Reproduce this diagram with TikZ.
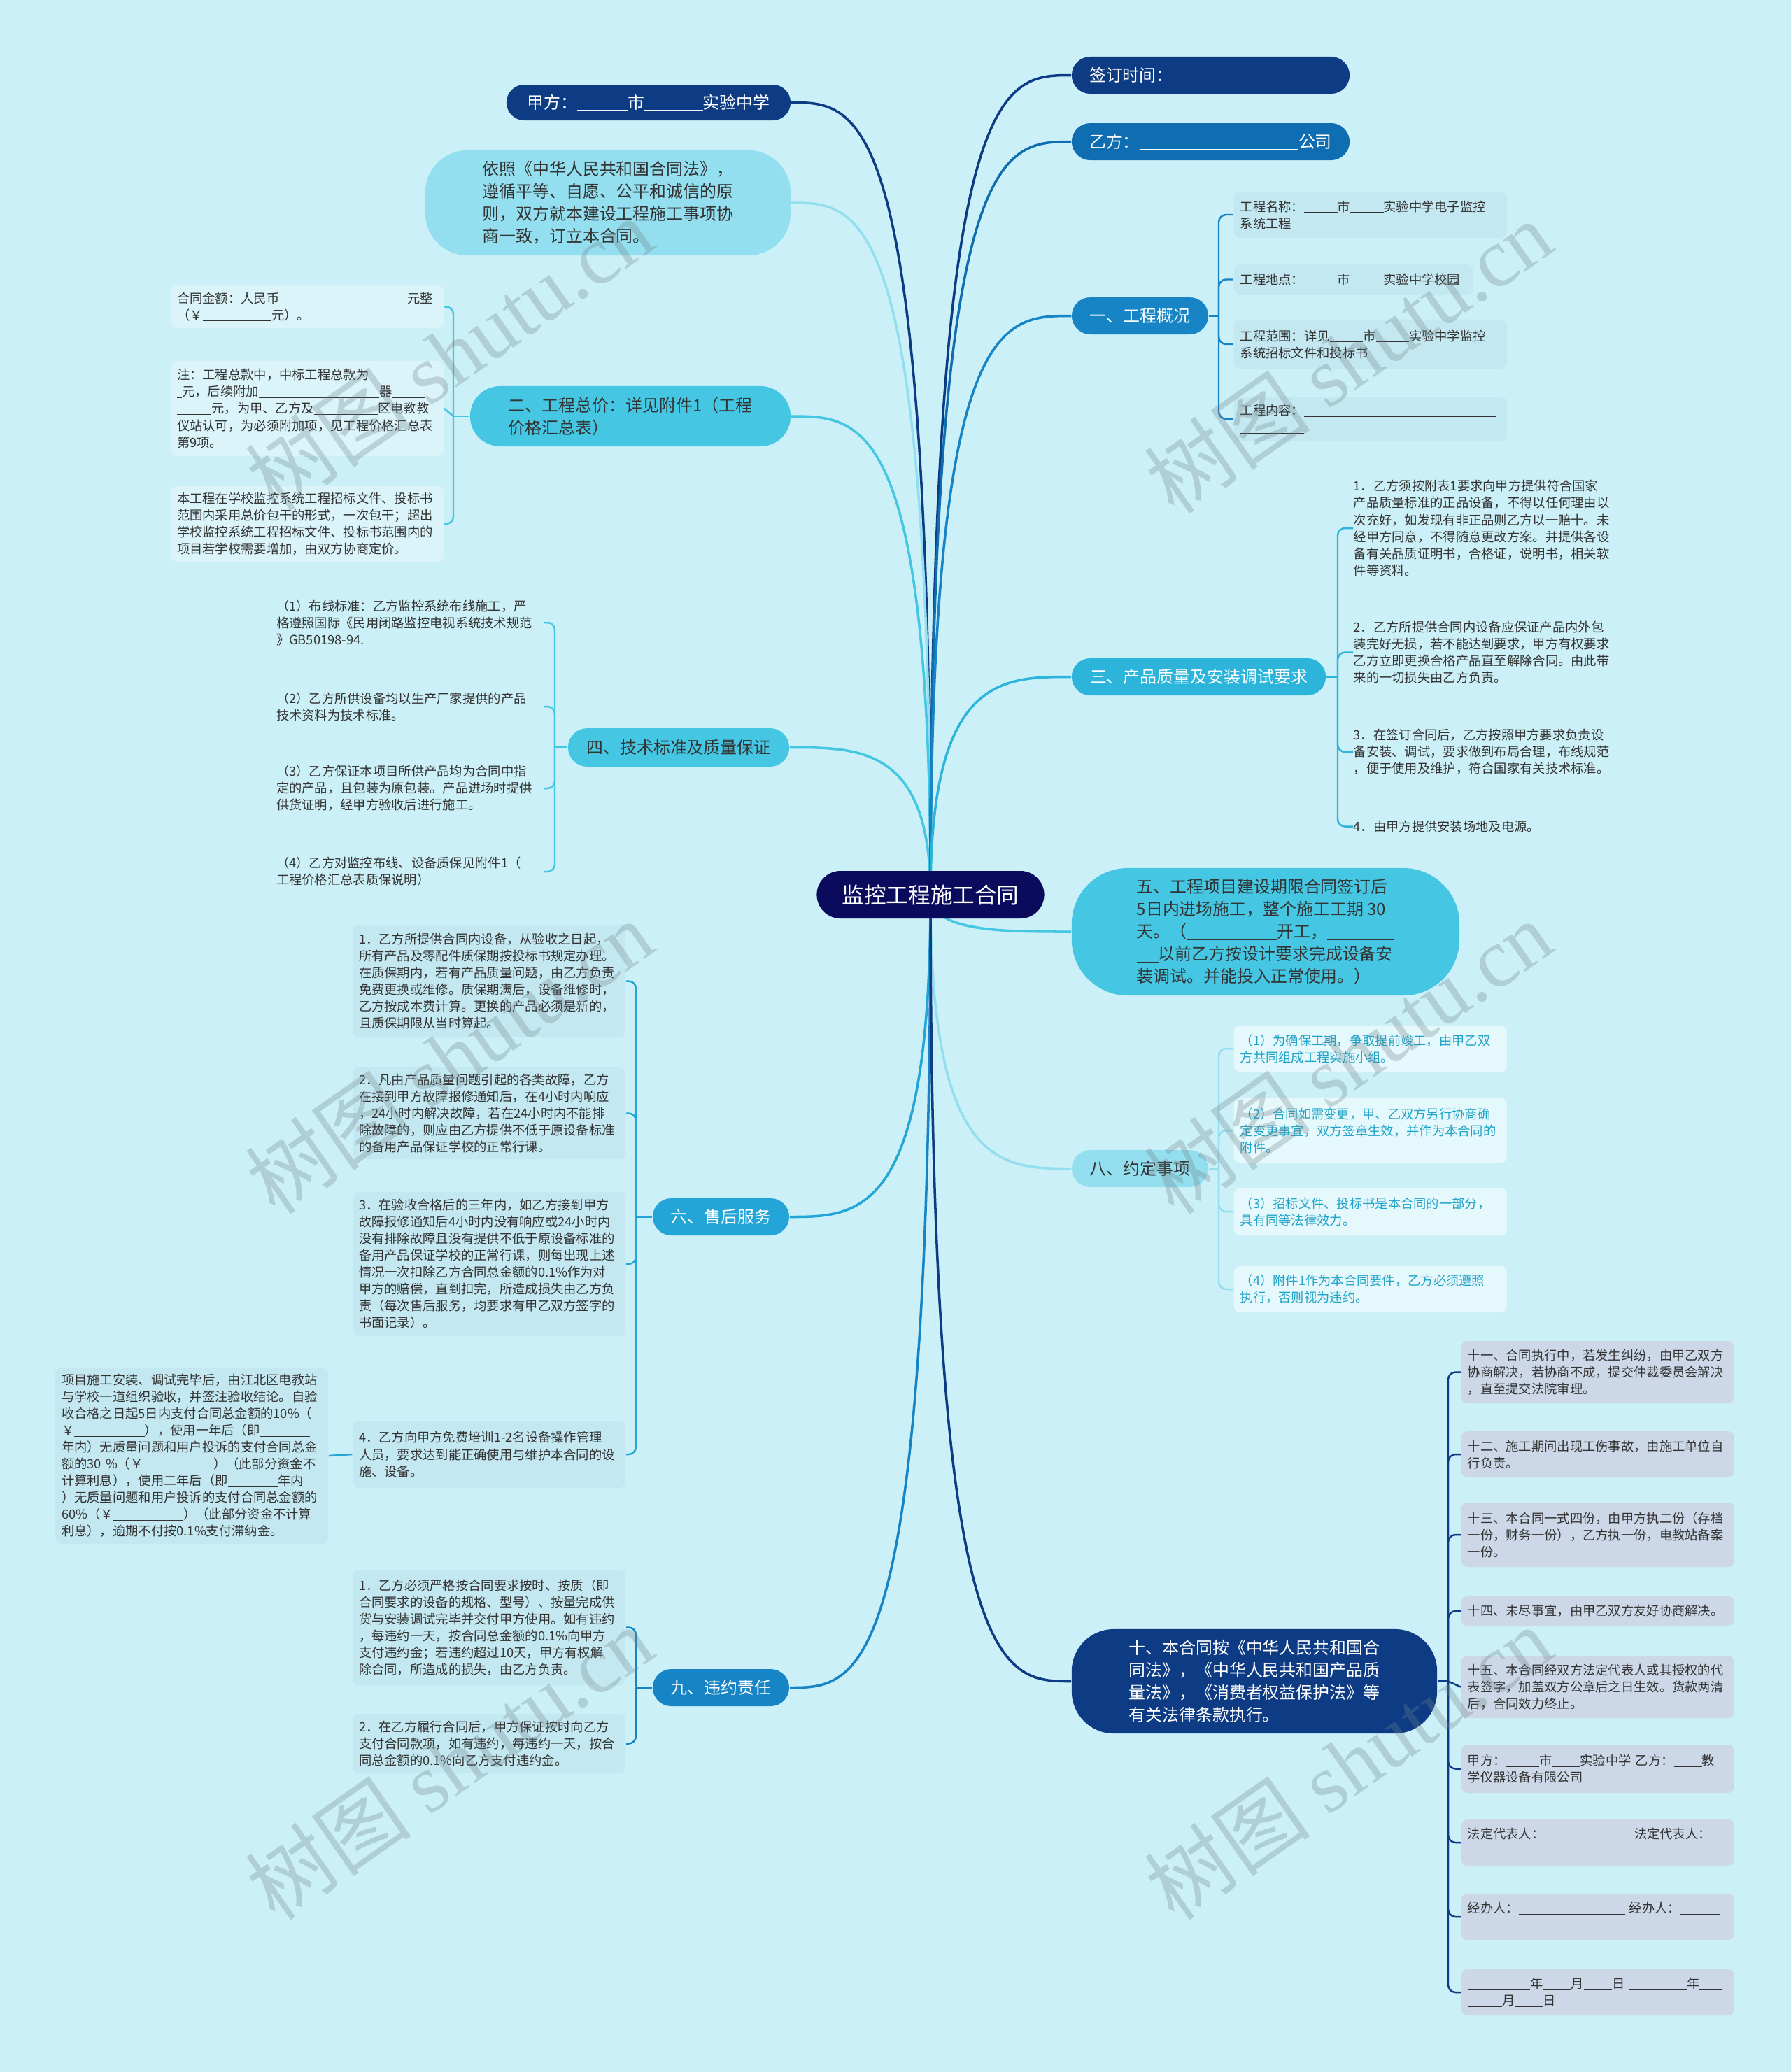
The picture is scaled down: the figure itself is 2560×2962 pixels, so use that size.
\documentclass[tikz,border=0pt]{standalone}
\usepackage{fontspec}
\setmainfont{Noto Sans CJK SC}
\newfontfamily\wmlatin{Liberation Serif}
\usetikzlibrary{backgrounds}
\definecolor{bgc}{RGB}{204,240,247}
\definecolor{rootc}{RGB}{11,11,94}
\definecolor{navyc}{RGB}{13,60,133}
\definecolor{bluec}{RGB}{15,109,177}
\definecolor{midbc}{RGB}{22,132,197}
\definecolor{liuc}{RGB}{36,165,216}
\definecolor{cyanc}{RGB}{69,198,226}
\definecolor{sanc}{RGB}{44,180,219}
\definecolor{ltc}{RGB}{148,223,239}
\definecolor{txt}{RGB}{51,51,51}
\definecolor{leafer}{RGB}{218,244,250}
\definecolor{leafyi}{RGB}{196,232,242}
\definecolor{leafliu}{RGB}{196,232,242}
\definecolor{leafba}{RGB}{229,248,252}
\definecolor{batxt}{RGB}{31,163,200}
\definecolor{leafshi}{RGB}{204,216,232}
\definecolor{wmc}{RGB}{110,130,135}
\newcommand\blk[1]{\rule[-0.13em]{#1em}{0.06em}}
\newcommand\leaffont{\fontsize{5.2pt}{6.83pt}\selectfont}
\newcommand\brfont{\fontsize{6.8pt}{9.1pt}\selectfont}
\tikzset{
  bnode/.style={align=left, inner sep=0pt, font=\brfont},
  leafbox/.style={fill=#1, rounded corners=2.5pt, align=left, text width=3.72cm, inner xsep=0.09cm, inner ysep=0pt, font=\leaffont, text=txt},
  leafplain/.style={align=left, inner sep=0pt, font=\leaffont, text=txt},
  mainline/.style={draw=#1, line width=1pt},
  bline/.style={draw=#1, line width=0.7pt, rounded corners=3pt},
  wm/.style={font=\fontsize{34pt}{34pt}\selectfont, text=wmc, opacity=0.3, rotate=35}
}
\begin{document}
\begin{tikzpicture}[x=0.01cm,y=-0.01cm]
\useasboundingbox (0,0) rectangle (2560,2962);

% ---------- root ----------
\node[bnode, fill=rootc, text=white, font=\fontsize{9pt}{11pt}\selectfont, minimum width=3.25cm, minimum height=0.68cm, rounded corners=0.34cm, align=center] (root) at (1330,1279) {监控工程施工合同};

% ---------- left branches ----------
\node[bnode, fill=navyc, text=white, minimum width=4.06cm, minimum height=0.51cm, rounded corners=0.255cm] (jia) at (927,146.5) {甲方：\blk{3}市\blk{3.5}实验中学};

\node[bnode, fill=ltc, text=txt, minimum width=5.22cm, minimum height=1.5cm, rounded corners=0.6cm] (yz) at (869,290) {依照《中华人民共和国合同法》，\\遵循平等、自愿、公平和诚信的原\\则，双方就本建设工程施工事项协\\商一致，订立本合同。};

\node[bnode, fill=cyanc, text=txt, minimum width=4.58cm, minimum height=0.86cm, rounded corners=0.43cm] (er) at (901,595) {二、工程总价：详见附件1（工程\\价格汇总表）};

\node[leafbox=leafer, anchor=east, minimum height=0.61cm] (era) at (635,438.5) {合同金额：人民币\blk{10}元整\\（￥\blk{5.4}元）。};
\node[leafbox=leafer, anchor=east, minimum height=1.36cm] (erb) at (635,584) {注：工程总款中，中标工程总款为\blk{5}\\\blk{0.4}元，后续附加\blk{9.4}器\blk{2.6}\\\blk{2.7}元，为甲、乙方及\blk{5}区电教教\\仪站认可，为必须附加项，见工程价格汇总表\\第9项。};
\node[leafbox=leafer, anchor=east, minimum height=1.08cm] (erc) at (635,749) {本工程在学校监控系统工程招标文件、投标书\\范围内采用总价包干的形式，一次包干；超出\\学校监控系统工程招标文件、投标书范围内的\\项目若学校需要增加，由双方协商定价。};

\node[bnode, fill=cyanc, text=txt, minimum width=3.16cm, minimum height=0.55cm, rounded corners=0.275cm] (si) at (970,1068.5) {四、技术标准及质量保证};

\node[leafplain, anchor=east, text width=3.82cm] (si1) at (778,890) {（1）布线标准：乙方监控系统布线施工，严\\格遵照国际《民用闭路监控电视系统技术规范\\》GB50198-94.};
\node[leafplain, anchor=east, text width=3.82cm] (si2) at (778,1010) {（2）乙方所供设备均以生产厂家提供的产品\\技术资料为技术标准。};
\node[leafplain, anchor=east, text width=3.82cm] (si3) at (778,1127) {（3）乙方保证本项目所供产品均为合同中指\\定的产品，且包装为原包装。产品进场时提供\\供货证明，经甲方验收后进行施工。};
\node[leafplain, anchor=east, text width=3.82cm] (si4) at (778,1246) {（4）乙方对监控布线、设备质保见附件1（\\工程价格汇总表质保说明）};

\node[bnode, fill=liuc, text=white, minimum width=1.95cm, minimum height=0.53cm, rounded corners=0.265cm] (liu) at (1030.5,1739.5) {六、售后服务};

\node[leafbox=leafliu, anchor=east, minimum height=1.61cm] (liu1) at (895,1402.5) {1．乙方所提供合同内设备，从验收之日起，\\所有产品及零配件质保期按投标书规定办理。\\在质保期内，若有产品质量问题，由乙方负责\\免费更换或维修。质保期满后，设备维修时，\\乙方按成本费计算。更换的产品必须是新的，\\且质保期限从当时算起。};
\node[leafbox=leafliu, anchor=east, minimum height=1.31cm] (liu2) at (895,1591.5) {2．凡由产品质量问题引起的各类故障，乙方\\在接到甲方故障报修通知后，在4小时内响应\\，24小时内解决故障，若在24小时内不能排\\除故障的，则应由乙方提供不低于原设备标准\\的备用产品保证学校的正常行课。};
\node[leafbox=leafliu, anchor=east, minimum height=2.06cm] (liu3) at (895,1807) {3．在验收合格后的三年内，如乙方接到甲方\\故障报修通知后4小时内没有响应或24小时内\\没有排除故障且没有提供不低于原设备标准的\\备用产品保证学校的正常行课，则每出现上述\\情况一次扣除乙方合同总金额的0.1\%作为对\\甲方的赔偿，直到扣完，所造成损失由乙方负\\责（每次售后服务，均要求有甲乙双方签字的\\书面记录）。};
\node[leafbox=leafliu, anchor=east, minimum height=0.96cm] (liu4) at (895,2079) {4．乙方向甲方免费培训1-2名设备操作管理\\人员，要求达到能正确使用与维护本合同的设\\施、设备。};
\node[leafbox=leafliu, anchor=east, minimum height=2.52cm] (liu5) at (470,2081) {项目施工安装、调试完毕后，由江北区电教站\\与学校一道组织验收，并签注验收结论。自验\\收合格之日起5日内支付合同总金额的10\%（\\￥\blk{5.5}），使用一年后（即\blk{3.9}\\年内）无质量问题和用户投诉的支付合同总金\\额的30 \%（￥\blk{5.5}）（此部分资金不\\计算利息），使用二年后（即\blk{3.9}年内\\）无质量问题和用户投诉的支付合同总金额的\\60\%（￥\blk{5.5}）（此部分资金不计算\\利息），逾期不付按0.1\%支付滞纳金。};

\node[bnode, fill=midbc, text=white, minimum width=1.95cm, minimum height=0.53cm, rounded corners=0.265cm] (jiu) at (1030.5,2412.5) {九、违约责任};

\node[leafbox=leafliu, anchor=east, minimum height=1.65cm] (jiu1) at (895,2326.5) {1．乙方必须严格按合同要求按时、按质（即\\合同要求的设备的规格、型号）、按量完成供\\货与安装调试完毕并交付甲方使用。如有违约\\，每违约一天，按合同总金额的0.1\%向甲方\\支付违约金；若违约超过10天，甲方有权解\\除合同，所造成的损失，由乙方负责。};
\node[leafbox=leafliu, anchor=east, minimum height=0.85cm] (jiu2) at (895,2492.5) {2．在乙方履行合同后，甲方保证按时向乙方\\支付合同款项，如有违约，每违约一天，按合\\同总金额的0.1\%向乙方支付违约金。};

% ---------- right branches ----------
\node[bnode, fill=navyc, text=white, minimum width=3.97cm, minimum height=0.53cm, rounded corners=0.265cm] (qian) at (1730.5,107.5) {签订时间：\blk{9.5}};
\node[bnode, fill=bluec, text=white, minimum width=3.97cm, minimum height=0.53cm, rounded corners=0.265cm] (yi) at (1730.5,202.5) {乙方：\blk{9.5}公司};

\node[bnode, fill=midbc, text=white, minimum width=1.95cm, minimum height=0.53cm, rounded corners=0.265cm] (yiy) at (1629.5,451.5) {一、工程概况};

\node[leafbox=leafyi, anchor=west, minimum height=0.66cm] (yia) at (1763,307) {工程名称：\blk{2.6}市\blk{2.6}实验中学电子监控\\系统工程};
\node[leafbox=leafyi, anchor=west, minimum height=0.43cm, text width=3.24cm] (yib) at (1763,399.5) {工程地点：\blk{2.6}市\blk{2.6}实验中学校园};
\node[leafbox=leafyi, anchor=west, minimum height=0.70cm] (yic) at (1763,492) {工程范围：详见\blk{2.6}市\blk{2.6}实验中学监控\\系统招标文件和投标书};
\node[leafbox=leafyi, anchor=west, minimum height=0.64cm] (yid) at (1763,599) {工程内容：\blk{15}\\\blk{5}};

\node[bnode, fill=sanc, text=white, minimum width=3.63cm, minimum height=0.53cm, rounded corners=0.265cm] (san) at (1713.5,967.5) {三、产品质量及安装调试要求};

\node[leafplain, anchor=west, text width=3.9cm] (san1) at (1934,755) {1．乙方须按附表1要求向甲方提供符合国家\\产品质量标准的正品设备，不得以任何理由以\\次充好，如发现有非正品则乙方以一赔十。未\\经甲方同意，不得随意更改方案。并提供各设\\备有关品质证明书，合格证，说明书，相关软\\件等资料。};
\node[leafplain, anchor=west, text width=3.9cm] (san2) at (1934,932.5) {2．乙方所提供合同内设备应保证产品内外包\\装完好无损，若不能达到要求，甲方有权要求\\乙方立即更换合格产品直至解除合同。由此带\\来的一切损失由乙方负责。};
\node[leafplain, anchor=west, text width=3.9cm] (san3) at (1934,1075) {3．在签订合同后，乙方按照甲方要求负责设\\备安装、调试，要求做到布局合理，布线规范\\，便于使用及维护，符合国家有关技术标准。};
\node[leafplain, anchor=west, text width=3.9cm] (san4) at (1934,1181.5) {4．由甲方提供安装场地及电源。};

\node[bnode, fill=cyanc, text=txt, minimum width=5.54cm, minimum height=1.82cm, rounded corners=0.8cm] (wu) at (1809,1332) {五、工程项目建设期限合同签订后\\5日内进场施工，整个施工工期 30\\天。（\blk{5.4}开工，\blk{4}\\\blk{1.3}以前乙方按设计要求完成设备安\\装调试。并能投入正常使用。）};

\node[bnode, fill=ltc, text=txt, minimum width=1.95cm, minimum height=0.53cm, rounded corners=0.265cm] (ba) at (1629.5,1670.5) {八、约定事项};

\node[leafbox=leafba, text=batxt, anchor=west, minimum height=0.66cm] (ba1) at (1763,1499) {（1）为确保工期，争取提前竣工，由甲乙双\\方共同组成工程实施小组。};
\node[leafbox=leafba, text=batxt, anchor=west, minimum height=0.92cm] (ba2) at (1763,1616) {（2）合同如需变更，甲、乙双方另行协商确\\定变更事宜，双方签章生效，并作为本合同的\\附件。};
\node[leafbox=leafba, text=batxt, anchor=west, minimum height=0.68cm] (ba3) at (1763,1732) {（3）招标文件、投标书是本合同的一部分，\\具有同等法律效力。};
\node[leafbox=leafba, text=batxt, anchor=west, minimum height=0.66cm] (ba4) at (1763,1843) {（4）附件1作为本合同要件，乙方必须遵照\\执行，否则视为违约。};

\node[bnode, fill=navyc, text=white, minimum width=5.22cm, minimum height=1.49cm, rounded corners=0.6cm] (shi) at (1793,2403.5) {十、本合同按《中华人民共和国合\\同法》，《中华人民共和国产品质\\量法》，《消费者权益保护法》等\\有关法律条款执行。};

\node[leafbox=leafshi, anchor=west, minimum height=0.89cm] (shi1) at (2088,1961.5) {十一、合同执行中，若发生纠纷，由甲乙双方\\协商解决，若协商不成，提交仲裁委员会解决\\，直至提交法院审理。};
\node[leafbox=leafshi, anchor=west, minimum height=0.66cm] (shi2) at (2088,2079) {十二、施工期间出现工伤事故，由施工单位自\\行负责。};
\node[leafbox=leafshi, anchor=west, minimum height=0.92cm] (shi3) at (2088,2194) {十三、本合同一式四份，由甲方执二份（存档\\一份，财务一份），乙方执一份，电教站备案\\一份。};
\node[leafbox=leafshi, anchor=west, minimum height=0.42cm] (shi4) at (2088,2303) {十四、未尽事宜，由甲乙双方友好协商解决。};
\node[leafbox=leafshi, anchor=west, minimum height=0.89cm] (shi5) at (2088,2411.5) {十五、本合同经双方法定代表人或其授权的代\\表签字，加盖双方公章后之日生效。货款两清\\后，合同效力终止。};
\node[leafbox=leafshi, anchor=west, minimum height=0.69cm] (shi6) at (2088,2528.5) {甲方：\blk{2.6}市\blk{2.2}实验中学 乙方：\blk{2.2}教\\学仪器设备有限公司};
\node[leafbox=leafshi, anchor=west, minimum height=0.66cm] (shi7) at (2088,2634) {法定代表人：\blk{6.7} 法定代表人：\blk{0.8}\\\blk{7.6}};
\node[leafbox=leafshi, anchor=west, minimum height=0.66cm] (shi8) at (2088,2740) {经办人：\blk{8.3} 经办人：\blk{3.1}\\\blk{7.2}};
\node[leafbox=leafshi, anchor=west, minimum height=0.66cm] (shi9) at (2088,2848) {\blk{4.9}年\blk{2.2}月\blk{2.2}日 \blk{4.5}年\blk{1.8}\\\blk{2.7}月\blk{2.2}日};

% ---------- connectors ----------
\begin{scope}[on background layer]
\fill[bgc] (0,0) rectangle (2560,2962);
% main
\draw[mainline=navyc] (root.center) .. controls (1330,146.5) and (1230,146.5) .. (jia.east);
\draw[mainline=ltc] (root.center) .. controls (1330,290) and (1230,290) .. (yz.east);
\draw[mainline=cyanc] (root.center) .. controls (1330,595) and (1230,595) .. (er.east);
\draw[mainline=cyanc] (root.center) .. controls (1330,1068.5) and (1229,1068.5) .. (si.east);
\draw[mainline=liuc] (root.center) .. controls (1330,1739.5) and (1229,1739.5) .. (liu.east);
\draw[mainline=midbc] (root.center) .. controls (1330,2412.5) and (1229,2412.5) .. (jiu.east);
\draw[mainline=navyc] (root.center) .. controls (1330,107.5) and (1431,107.5) .. (qian.west);
\draw[mainline=bluec] (root.center) .. controls (1330,202.5) and (1431,202.5) .. (yi.west);
\draw[mainline=midbc] (root.center) .. controls (1330,451.5) and (1431,451.5) .. (yiy.west);
\draw[mainline=sanc] (root.center) .. controls (1330,967.5) and (1431,967.5) .. (san.west);
\draw[mainline=cyanc] (root.center) .. controls (1330,1332) and (1431,1332) .. (wu.west);
\draw[mainline=ltc] (root.center) .. controls (1330,1670.5) and (1431,1670.5) .. (ba.west);
\draw[mainline=navyc] (root.center) .. controls (1330,2403.5) and (1431,2403.5) .. (shi.west);
% brackets left
\coordinate (jer) at (648,595);
\draw[bline=cyanc] (er.west) -- (jer);
\draw[bline=cyanc] (jer) |- (era.east);
\draw[bline=cyanc] (jer) -- (erb.east);
\draw[bline=cyanc] (jer) |- (erc.east);
\coordinate (jsi) at (793,1068.5);
\draw[bline=cyanc] (si.west) -- (jsi);
\foreach \n in {si1,si2,si3,si4} \draw[bline=cyanc] (jsi) |- (\n.east);
\coordinate (jliu) at (909,1739.5);
\draw[bline=liuc] (liu.west) -- (jliu);
\foreach \n in {liu1,liu2,liu3,liu4} \draw[bline=liuc] (jliu) |- (\n.east);
\draw[bline=liuc] (liu4.west) -- (liu5.east);
\coordinate (jjiu) at (909,2412.5);
\draw[bline=midbc] (jiu.west) -- (jjiu);
\foreach \n in {jiu1,jiu2} \draw[bline=midbc] (jjiu) |- (\n.east);
% brackets right
\coordinate (jyi) at (1742,451.5);
\draw[bline=midbc] (yiy.east) -- (jyi);
\foreach \n in {yia,yib,yic,yid} \draw[bline=midbc] (jyi) |- (\n.west);
\coordinate (jsan) at (1912,967.5);
\draw[bline=sanc] (san.east) -- (jsan);
\foreach \n in {san1,san2,san3,san4} \draw[bline=sanc] (jsan) |- (\n.west);
\coordinate (jba) at (1742,1670.5);
\draw[bline=ltc] (ba.east) -- (jba);
\foreach \n in {ba1,ba2,ba3,ba4} \draw[bline=ltc] (jba) |- (\n.west);
\coordinate (jshi) at (2070,2403.5);
\draw[bline=navyc] (shi.east) -- (jshi);
\foreach \n in {shi1,shi2,shi3,shi4,shi6,shi7,shi8,shi9} \draw[bline=navyc] (jshi) |- (\n.west);
\draw[bline=navyc] (jshi) -- (shi5.west);
\end{scope}

% ---------- watermarks ----------
\node[wm] (w1) at (642,506) {树图 {\wmlatin shutu.cn}};
\node[wm] (w2) at (1927,510) {树图 {\wmlatin shutu.cn}};
\node[wm] (w3) at (642,1511) {树图 {\wmlatin shutu.cn}};
\node[wm] (w4) at (1927,1511) {树图 {\wmlatin shutu.cn}};
\node[wm] (w5) at (642,2520) {树图 {\wmlatin shutu.cn}};
\node[wm] (w6) at (1927,2520) {树图 {\wmlatin shutu.cn}};
\end{tikzpicture}
\end{document}
